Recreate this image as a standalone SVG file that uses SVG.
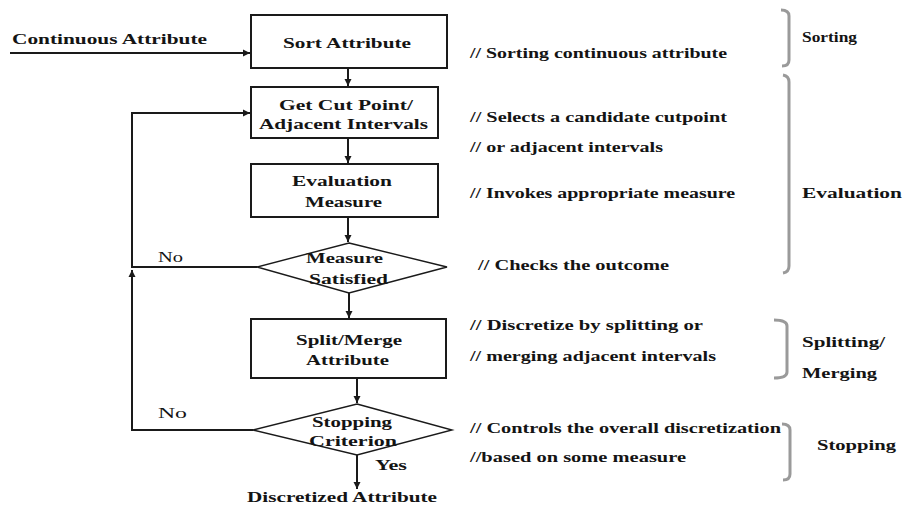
<svg xmlns="http://www.w3.org/2000/svg" width="904" height="507" viewBox="0 0 904 507">
  <style>
    .box { fill: #ffffff; stroke: #1a1a1a; stroke-width: 2; }
    .dia { fill: #ffffff; stroke: #1a1a1a; stroke-width: 1.4; }
    .edge { fill: none; stroke: #1a1a1a; stroke-width: 2; }
    .brace { fill: none; stroke: #9a9a9a; stroke-width: 3; stroke-linejoin: round; }
    text { font-family: "Liberation Serif", "DejaVu Serif", serif; font-size: 14px; fill: #141414; }
    .lbl { font-weight: bold; }
  </style>
  <defs>
    <marker id="arrow" markerUnits="userSpaceOnUse" markerWidth="8" markerHeight="8" refX="7" refY="4" orient="auto">
      <path d="M0,0.5 L7,4 L0,7.5 z" fill="#1a1a1a"/>
    </marker>
  </defs>
  <rect width="904" height="507" fill="#ffffff"/>

  <!-- connectors -->
  <g id="connectors">
    <path class="edge" d="M10 53 H250" marker-end="url(#arrow)"/>
    <path class="edge" d="M348 68 V86" marker-end="url(#arrow)"/>
    <path class="edge" d="M348 138 V163" marker-end="url(#arrow)"/>
    <path class="edge" d="M348 217 V242" marker-end="url(#arrow)"/>
    <path class="edge" d="M349 293 V318" marker-end="url(#arrow)"/>
    <path class="edge" d="M357 378 V403" marker-end="url(#arrow)"/>
    <path class="edge" d="M357 455 V489" marker-end="url(#arrow)"/>
    <path class="edge" d="M257 267 H132 V113 H250" marker-end="url(#arrow)"/>
    <path class="edge" d="M253 430 H132 V270" marker-end="url(#arrow)"/>
    <text x="158" y="262" textLength="25" lengthAdjust="spacingAndGlyphs">No</text>
    <text x="158" y="418" textLength="29" lengthAdjust="spacingAndGlyphs">No</text>
    <text class="lbl" x="375" y="470" textLength="32" lengthAdjust="spacingAndGlyphs">Yes</text>
  </g>

  <!-- input / output labels -->
  <g id="input">
    <text class="lbl" x="12" y="44" textLength="195" lengthAdjust="spacingAndGlyphs">Continuous Attribute</text>
  </g>
  <g id="output">
    <text class="lbl" x="247" y="502" textLength="190" lengthAdjust="spacingAndGlyphs">Discretized Attribute</text>
  </g>

  <!-- process steps -->
  <g id="sort">
    <rect class="box" x="251" y="15" width="196" height="53"/>
    <text class="lbl" x="283" y="48" textLength="128" lengthAdjust="spacingAndGlyphs">Sort Attribute</text>
  </g>
  <g id="cutpoint">
    <rect class="box" x="251" y="87" width="187" height="51"/>
    <text class="lbl" x="279" y="110" textLength="134" lengthAdjust="spacingAndGlyphs">Get Cut Point/</text>
    <text class="lbl" x="259" y="129" textLength="169" lengthAdjust="spacingAndGlyphs">Adjacent Intervals</text>
  </g>
  <g id="evaluation">
    <rect class="box" x="251" y="164" width="187" height="53"/>
    <text class="lbl" x="292" y="186" textLength="100" lengthAdjust="spacingAndGlyphs">Evaluation</text>
    <text class="lbl" x="305" y="207" textLength="77" lengthAdjust="spacingAndGlyphs">Measure</text>
  </g>
  <g id="satisfied">
    <polygon class="dia" points="349,243 447,267 349,293 257,267"/>
    <text class="lbl" x="306" y="263" textLength="77" lengthAdjust="spacingAndGlyphs">Measure</text>
    <text class="lbl" x="309" y="284" textLength="79" lengthAdjust="spacingAndGlyphs">Satisfied</text>
  </g>
  <g id="splitmerge">
    <rect class="box" x="251" y="319" width="195" height="59"/>
    <text class="lbl" x="296" y="345" textLength="106" lengthAdjust="spacingAndGlyphs">Split/Merge</text>
    <text class="lbl" x="306" y="365" textLength="83" lengthAdjust="spacingAndGlyphs">Attribute</text>
  </g>
  <g id="stopping">
    <polygon class="dia" points="357,404 452,430 357,455 253,430"/>
    <text class="lbl" x="312" y="427" textLength="80" lengthAdjust="spacingAndGlyphs">Stopping</text>
    <text class="lbl" x="309" y="446" textLength="88" lengthAdjust="spacingAndGlyphs">Criterion</text>
  </g>

  <!-- step comments -->
  <g id="comments">
    <text class="lbl" x="470" y="58" textLength="257" lengthAdjust="spacingAndGlyphs">// Sorting continuous attribute</text>
    <text class="lbl" x="470" y="122" textLength="257" lengthAdjust="spacingAndGlyphs">// Selects a candidate cutpoint</text>
    <text class="lbl" x="470" y="152" textLength="193" lengthAdjust="spacingAndGlyphs">// or adjacent intervals</text>
    <text class="lbl" x="470" y="198" textLength="265" lengthAdjust="spacingAndGlyphs">// Invokes appropriate measure</text>
    <text class="lbl" x="478" y="270" textLength="191" lengthAdjust="spacingAndGlyphs">// Checks the outcome</text>
    <text class="lbl" x="470" y="330" textLength="233" lengthAdjust="spacingAndGlyphs">// Discretize by splitting or</text>
    <text class="lbl" x="470" y="361" textLength="246" lengthAdjust="spacingAndGlyphs">// merging adjacent intervals</text>
    <text class="lbl" x="470" y="433" textLength="311" lengthAdjust="spacingAndGlyphs">// Controls the overall discretization</text>
    <text class="lbl" x="470" y="462" textLength="216" lengthAdjust="spacingAndGlyphs">//based on some measure</text>
  </g>

  <!-- phase brackets -->
  <g id="phase-sorting">
    <path class="brace" d="M781 10 Q789 10 789 16 V60 Q789 66 782 66"/>
    <text class="lbl" x="802" y="42" textLength="55" lengthAdjust="spacingAndGlyphs">Sorting</text>
  </g>
  <g id="phase-evaluation">
    <path class="brace" d="M783 75 Q789 76 789 82 V266 Q789 272 783 273"/>
    <text class="lbl" x="802" y="198" textLength="100" lengthAdjust="spacingAndGlyphs">Evaluation</text>
  </g>
  <g id="phase-splitting">
    <path class="brace" d="M774 320 Q787 320 787 326 V372 Q787 378 774 378"/>
    <text class="lbl" x="802" y="347" textLength="83" lengthAdjust="spacingAndGlyphs">Splitting/</text>
    <text class="lbl" x="802" y="378" textLength="75" lengthAdjust="spacingAndGlyphs">Merging</text>
  </g>
  <g id="phase-stopping">
    <path class="brace" d="M782 424 Q790 424 790 430 V474 Q790 480 783 480"/>
    <text class="lbl" x="817" y="450" textLength="79" lengthAdjust="spacingAndGlyphs">Stopping</text>
  </g>
</svg>
